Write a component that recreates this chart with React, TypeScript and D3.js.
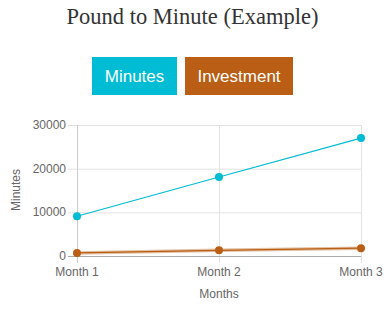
import React from "react";
import * as d3 from "d3";

const months = ["Month 1", "Month 2", "Month 3"];
const minutesValues = [9100, 18100, 27000];
const investmentValues = [700, 1300, 1800];
const yTicks = [0, 10000, 20000, 30000];
const seriesNames = ["Minutes", "Investment"];
const colors = ["#00bcd4", "#b95e14"];

export default function App() {
  const W = 385, H = 311;
  const x = d3.scalePoint<string>().domain(months).range([77, 361]);
  const y = d3.scaleLinear().domain([0, 30000]).range([256, 125]);
  const line = d3.line<number>().x((_, i) => x(months[i])!).y((d) => y(d));
  const legend = [
    { name: seriesNames[0], x: 92, w: 85, color: colors[0] },
    { name: seriesNames[1], x: 185, w: 108, color: colors[1] },
  ];
  const font = "Liberation Sans, Arial, sans-serif";
  return (
    <svg width={W} height={H} style={{ position: "absolute", left: 0, top: 0 }}>
      <text x={192.5} y={24} textAnchor="middle" fontFamily="Liberation Serif, serif" fontSize={22.5} fill="#333">
        Pound to Minute (Example)
      </text>
      {legend.map((l) => (
        <g key={l.name}>
          <rect x={l.x} y={57} width={l.w} height={38} fill={l.color} />
          <text x={l.x + l.w / 2} y={82} textAnchor="middle" fontFamily={font} fontSize={17} fill="#fff">
            {l.name}
          </text>
        </g>
      ))}
      {yTicks.map((t) => (
        <g key={t}>
          <line x1={68} x2={361} y1={y(t) + 0.5} y2={y(t) + 0.5} stroke={t === 0 ? "#aaa" : "#e3e3e3"} />
          <text x={66} y={y(t) + 4} textAnchor="end" fontFamily={font} fontSize={12} fill="#666">
            {t}
          </text>
        </g>
      ))}
      {months.map((m) => (
        <g key={m}>
          <line x1={x(m)! + 0.5} x2={x(m)! + 0.5} y1={125} y2={263} stroke="#e3e3e3" />
          <text x={x(m)!} y={276} textAnchor="middle" fontFamily={font} fontSize={12} fill="#666">
            {m}
          </text>
        </g>
      ))}
      <line x1={77.5} x2={77.5} y1={125} y2={263} stroke="#ccc" />
      <line x1={68} x2={361} y1={256.5} y2={256.5} stroke="#aaa" />
      <text x={219} y={298} textAnchor="middle" fontFamily={font} fontSize={12} fill="#666">
        Months
      </text>
      <text transform="translate(20,190) rotate(-90)" textAnchor="middle" fontFamily={font} fontSize={12} fill="#666">
        Minutes
      </text>
      <path d={line(investmentValues)!} fill="none" stroke={colors[1]} strokeOpacity={0.4} strokeWidth={3.5} />
      <path d={line(investmentValues)!} fill="none" stroke={colors[1]} strokeWidth={1.2} />
      <path d={line(minutesValues)!} fill="none" stroke={colors[0]} strokeWidth={1.2} />
      {minutesValues.map((v, i) => (
        <circle key={"m" + i} cx={x(months[i])} cy={y(v)} r={4} fill={colors[0]} />
      ))}
      {investmentValues.map((v, i) => (
        <circle key={"i" + i} cx={x(months[i])} cy={y(v)} r={4} fill={colors[1]} />
      ))}
    </svg>
  );
}
